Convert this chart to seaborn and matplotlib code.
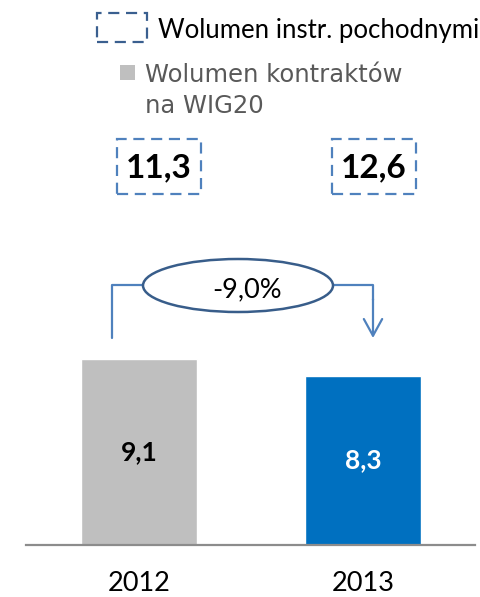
import matplotlib
matplotlib.use("Agg")
import matplotlib.pyplot as plt
import matplotlib.transforms as mtransforms
from matplotlib.patches import Rectangle, Ellipse, FancyArrowPatch
from matplotlib.lines import Line2D
import pandas as pd
import seaborn as sns

years = ["2012", "2013"]
wig20_volume = [9.1, 8.3]
derivatives_volume = [11.3, 12.6]
change_label = "-9,0%"
bar_colors = ["#BFBFBF", "#0070C0"]
value_colors = ["black", "white"]
legend_labels = ["Wolumen instr. pochodnymi", ["Wolumen kontraktów", "na WIG20"]]

W, H = 481, 597


def px(x, y):
    # pixel position (from top-left) -> figure fraction
    return x / W, 1 - y / H


df = pd.DataFrame({"year": years, "volume": wig20_volume})

sns.set_style("white")
plt.rcParams["font.family"] = ["Lato", "DejaVu Sans"]

fig = plt.figure(figsize=(W / 100, H / 100), dpi=100)
ax = fig.add_axes([26 / W, 52 / H, 449 / W, 545 / H])

sns.barplot(data=df, x="year", y="volume", hue="year", palette=bar_colors,
            width=0.518, legend=False, ax=ax, saturation=1)

ax.set_xlim(-0.504, 1.5)
ax.set_ylim(0, 545 / 20.4)
for s in ["top", "right", "left"]:
    ax.spines[s].set_visible(False)
ax.spines["bottom"].set_color("#8C8C8C")
ax.spines["bottom"].set_linewidth(1.6)
ax.set_xlabel("")
ax.set_ylabel("")
ax.set_yticks([])
ax.set_xticks([])

blend = mtransforms.blended_transform_factory(ax.transData, fig.transFigure)

# values inside the bars + year labels
for i, (v, c) in enumerate(zip(wig20_volume, value_colors)):
    ax.text(i, v / 2, f"{v:.1f}".replace(".", ","), ha="center", va="center",
            fontsize=19, fontweight="bold", color=c)
    ax.text(i, 1 - 591 / H, years[i], transform=blend, ha="center",
            va="baseline", fontsize=19.5, color="black")

# derivative volume totals in dashed boxes
box_offsets = [0.09, 0.047]
for i, (v, off) in enumerate(zip(derivatives_volume, box_offsets)):
    ax.text(i + off, 1 - 167.5 / H, f"{v:.1f}".replace(".", ","), transform=blend,
            ha="center", va="center", fontsize=24, fontweight="bold", color="black")
    xc = ax.transData.transform((i + off, 0))[0]
    x0 = fig.transFigure.inverted().transform((xc - 42, 0))[0]
    fig.add_artist(Rectangle((x0, 1 - 194 / H), 84 / W, 55 / H, transform=fig.transFigure,
                             fill=False, edgecolor="#4F81BD", lw=1.6,
                             linestyle=(0, (5, 3))))

# change ellipse with connector and arrow
fig.add_artist(Ellipse(px(238, 285.5), 190 / W, 53 / H, transform=fig.transFigure,
                       facecolor="white", edgecolor="#385D8A", lw=1.8, zorder=3))
fig.text(*px(247.5, 297), change_label, ha="center", va="baseline", fontsize=19.5,
         color="black", zorder=4)
lx, ly = zip(px(143, 285), px(112, 285), px(112, 338))
fig.add_artist(Line2D(lx, ly, transform=fig.transFigure, color="#4F81BD", lw=1.6))
rx, ry = zip(px(333, 285), px(373, 285), px(373, 300))
fig.add_artist(Line2D(rx, ry, transform=fig.transFigure, color="#4F81BD", lw=1.6))
fig.add_artist(FancyArrowPatch(px(373, 299), px(373, 338), transform=fig.transFigure,
                               arrowstyle="->,head_length=0.6,head_width=0.33",
                               mutation_scale=20, color="#4F81BD", lw=1.6,
                               shrinkA=0, shrinkB=0))

# legend
fig.add_artist(Rectangle(px(97, 42), 50 / W, 29 / H, transform=fig.transFigure,
                         fill=False, edgecolor="#3A5F8F", lw=1.6,
                         linestyle=(0, (5, 3))))
fig.text(*px(158, 38), legend_labels[0], ha="left", va="baseline", fontsize=18.5,
         color="black")
fig.add_artist(Rectangle(px(120, 80), 15 / W, 15 / H, transform=fig.transFigure,
                         facecolor="#BFBFBF", edgecolor="none"))
for line, base in zip(legend_labels[1], [82, 113]):
    fig.text(*px(145, base), line, ha="left", va="baseline", fontsize=17.5,
             color="#595959", family=["DejaVu Sans"])

fig.savefig("out.png", dpi=100)
